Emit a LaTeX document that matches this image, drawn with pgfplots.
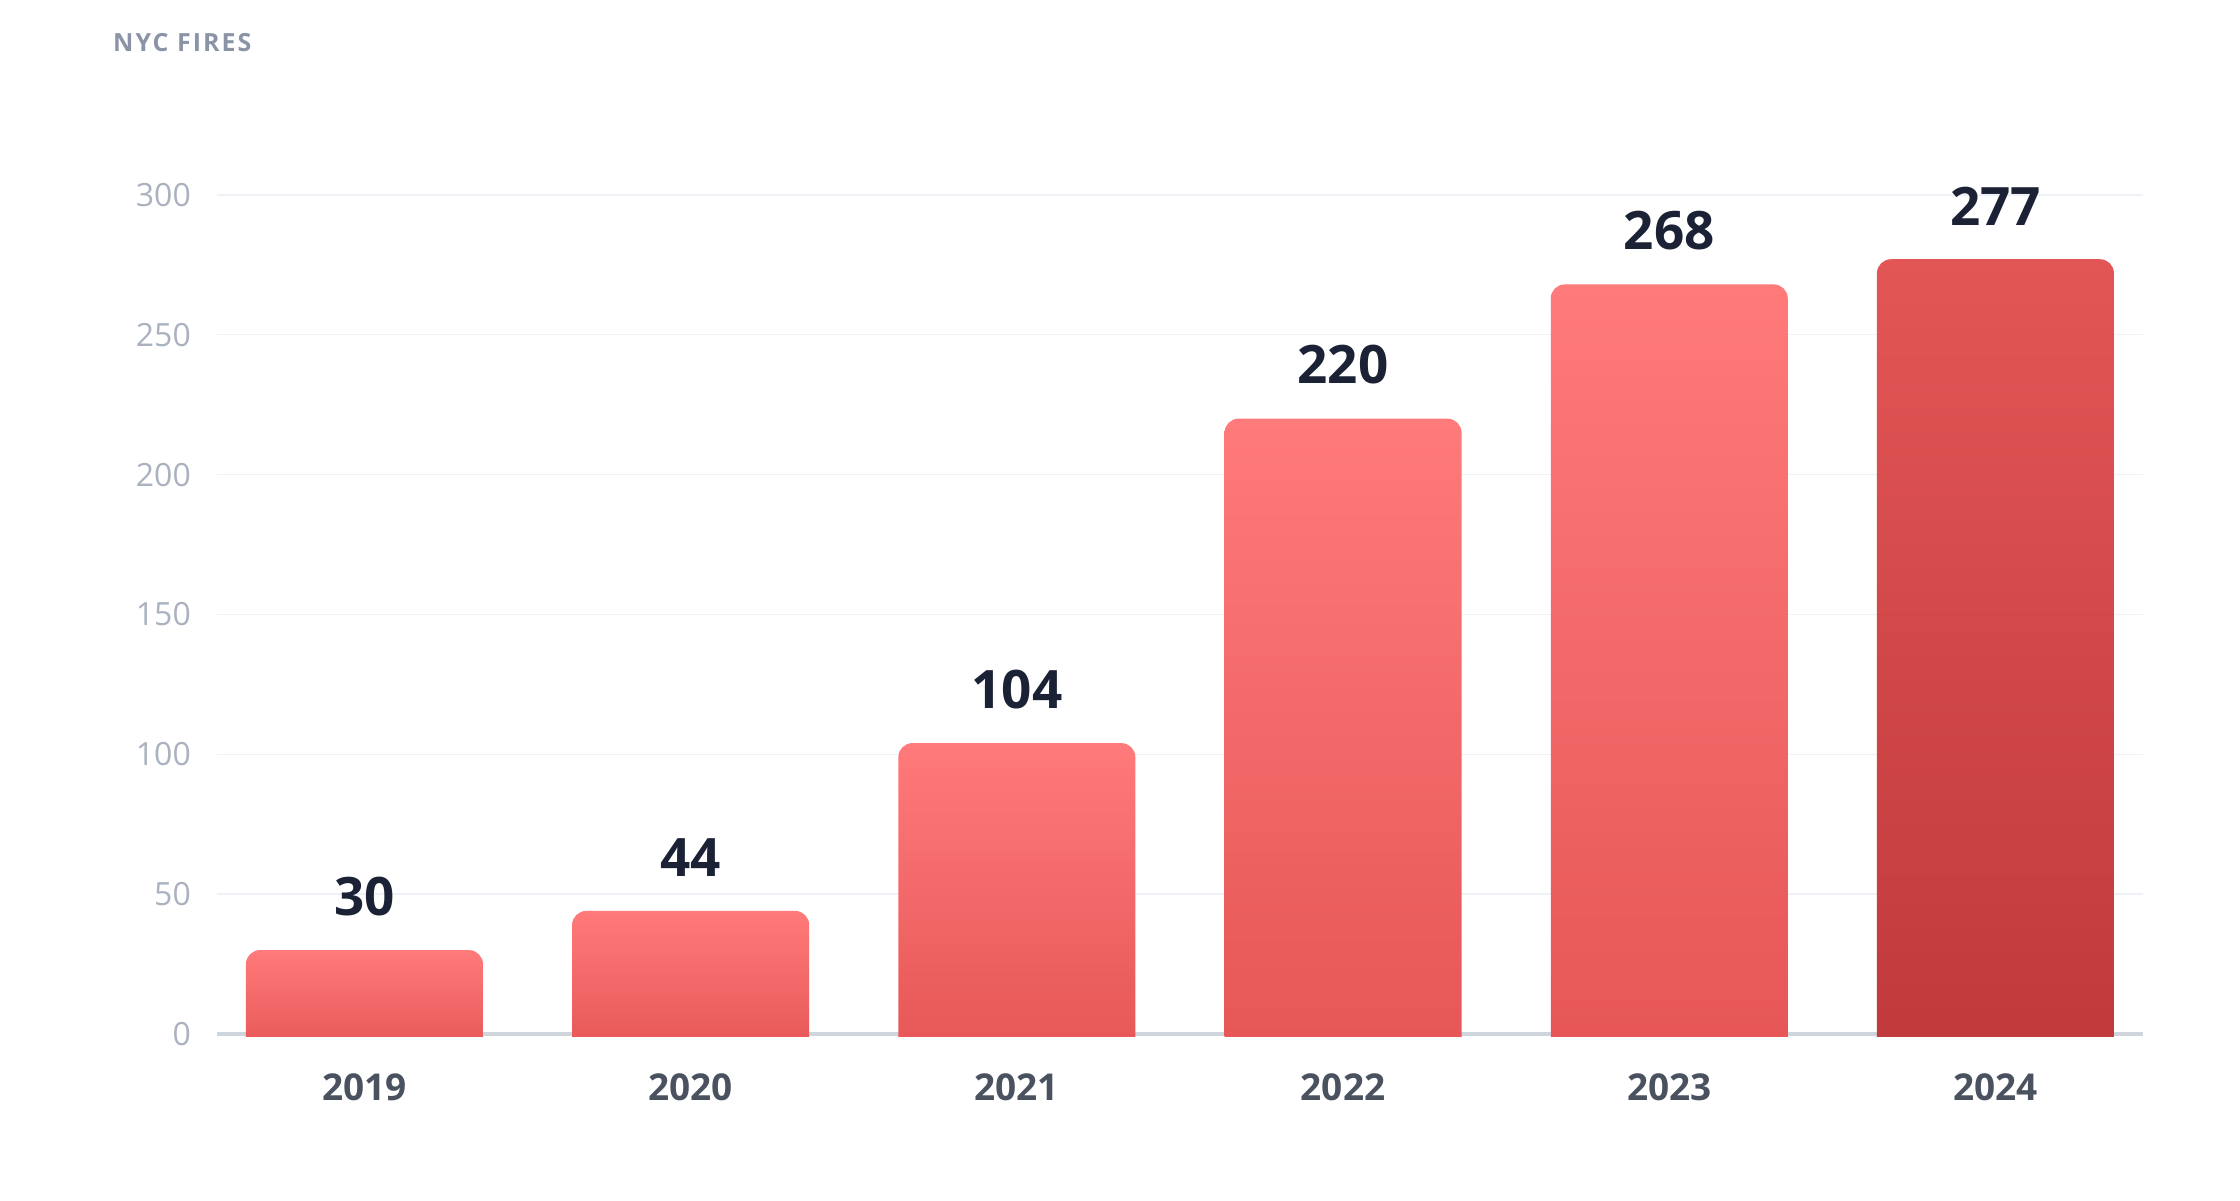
\documentclass[border=0pt]{standalone}
\usepackage{fontspec}
\setmainfont{Open Sans}
\newfontfamily\titlefont[LetterSpace=8]{Open Sans}
\usepackage{pgfplots}
\pgfplotsset{compat=1.18}
\definecolor{gridc}{HTML}{EEF1F5}
\definecolor{axisc}{HTML}{CFD5DD}
\definecolor{ytickc}{HTML}{A9B2BE}
\definecolor{xtickc}{HTML}{4A5260}
\definecolor{valc}{HTML}{1B2235}
\definecolor{titlec}{HTML}{8A94A6}
\definecolor{bartop}{HTML}{FF7A7A}
\definecolor{barbot}{HTML}{E65656}
\definecolor{hitop}{HTML}{E35656}
\definecolor{hibot}{HTML}{C0393B}
\pgfplotsset{
  roundbar/.style={ybar, bar width=237pt, bar shift=0pt, draw=none,
    rounded corners=14pt, yshift=-20pt, y filter/.expression={y+7.1505}},
  normalbar/.style={roundbar, top color=bartop, bottom color=barbot},
  hibar/.style={roundbar, top color=hitop, bottom color=hibot},
}
\begin{document}
\begin{tikzpicture}
\useasboundingbox (0pt,0pt) rectangle (2240pt,1200pt);
\node[anchor=base west, inner sep=0pt, text=titlec, font=\titlefont\bfseries\fontsize{25}{30}\selectfont] at (113pt,1148pt) {NYC FIRES};
\begin{axis}[
  at={(217pt,163.9pt)}, anchor=south west,
  x=326.2pt, y=2.797pt,
  xmin=-0.452, xmax=5.452,
  ymin=-0.75, ymax=320,
  axis line style={draw=none},
  tick style={draw=none},
  ytick={0,50,100,150,200,250,300},
  yticklabels={0,50,100,150,200,250,300},
  xtick={0,1,2,3,4,5},
  xticklabels={2019,2020,2021,2022,2023,2024},
  ymajorgrids,
  major grid style={line width=1.5pt, color=gridc},
  yticklabel style={anchor=east, inner sep=0pt, xshift=-26pt, text=ytickc, font=\fontsize{32}{36}\selectfont},
  xticklabel style={anchor=base, inner sep=0pt, yshift=-64pt, text=xtickc, font=\bfseries\fontsize{37}{42}\selectfont},
  /pgf/number format/assume math mode=true,
  clip=true,
]
\draw[line width=4pt, color=axisc] (axis cs:-0.452,0) -- (axis cs:5.452,0);
\addplot[normalbar] coordinates {(0,30)};
\addplot[normalbar] coordinates {(1,44)};
\addplot[normalbar] coordinates {(2,104)};
\addplot[normalbar] coordinates {(3,220)};
\addplot[normalbar] coordinates {(4,268)};
\addplot[hibar] coordinates {(5,277)};
\addplot[draw=none, mark=none, nodes near coords,
  every node near coord/.append style={anchor=south, inner sep=0pt, yshift=34pt, text=valc, font=\bfseries\fontsize{53}{60}\selectfont}]
  coordinates {(0,30) (1,44) (2,104) (3,220) (4,268) (5,277)};
\end{axis}
\end{tikzpicture}
\end{document}
